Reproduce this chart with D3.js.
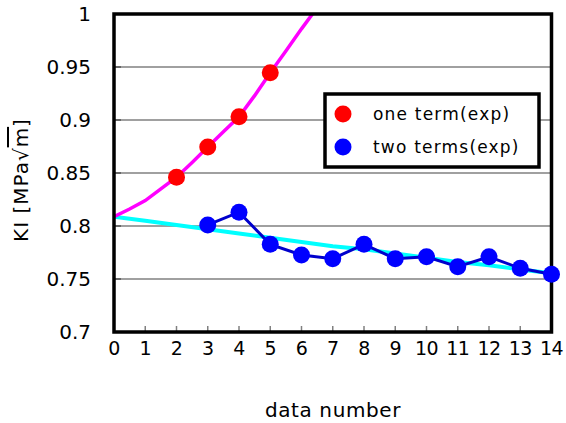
<!DOCTYPE html>
<html>
<head>
<meta charset="utf-8">
<script src="https://cdn.jsdelivr.net/npm/d3@7"></script>
<style>
  body { margin: 0; background: #fff; }
  text { font-family: "DejaVu Sans", sans-serif; fill: #000; }
</style>
</head>
<body>
<script>
// values
const dataNumbers = d3.range(0, 15);
const yTicks = [0.7, 0.75, 0.8, 0.85, 0.9, 0.95, 1];
const gridValues = [0.75, 0.8, 0.85, 0.9, 0.95];

const oneTermX = [2, 3, 4, 5];
const oneTermY = [0.846, 0.8745, 0.903, 0.9446];

const twoTermsX = [3, 4, 5, 6, 7, 8, 9, 10, 11, 12, 13, 14];
const twoTermsY = [0.801, 0.813, 0.7827, 0.7726, 0.7692, 0.7827, 0.7692, 0.771, 0.7616, 0.771, 0.7601, 0.7544];

// fitted curves
const oneFitX = [0, 0.5, 1, 1.5, 2, 2.5, 3, 3.5, 4, 4.5, 5, 5.5, 6, 6.5];
const oneFitY = [0.8088, 0.816, 0.824, 0.835, 0.846, 0.860, 0.8745, 0.889, 0.903, 0.923, 0.9446, 0.965, 0.986, 1.006];

const twoFitX = [0, 1, 2, 3, 4, 5, 6, 7, 8, 9, 10, 11, 12, 13, 14];
const twoFitY = [0.8088, 0.805, 0.801, 0.797, 0.793, 0.789, 0.785, 0.781, 0.778, 0.774, 0.770, 0.766, 0.763, 0.759, 0.7554];

const legendLabels = ["one term(exp)", "two terms(exp)"];
const legendColors = ["#ff0000", "#0000ff"];

const w = 566, h = 423;
const x = d3.scaleLinear().domain([0, 14]).range([114, 551.5]);
const y = d3.scaleLinear().domain([0.7, 1]).range([332, 14]);

const svg = d3.select("body").append("svg")
  .attr("width", w)
  .attr("height", h);

svg.append("defs").append("clipPath")
  .attr("id", "plot-clip")
  .append("rect")
  .attr("x", x(0)).attr("y", y(1))
  .attr("width", x(14) - x(0)).attr("height", y(0.7) - y(1));

// grid
svg.selectAll("line.grid")
  .data(gridValues)
  .enter()
  .append("line")
  .attr("class", "grid")
  .attr("x1", x(0)).attr("x2", x(14))
  .attr("y1", (d) => y(d)).attr("y2", (d) => y(d))
  .attr("stroke", "#808080")
  .attr("stroke-width", 1.5);

// y marks at left
svg.selectAll("line.ytick")
  .data(gridValues)
  .enter()
  .append("line")
  .attr("class", "ytick")
  .attr("x1", x(0)).attr("x2", x(0) + 7)
  .attr("y1", (d) => y(d)).attr("y2", (d) => y(d))
  .attr("stroke", "#555")
  .attr("stroke-width", 1.5);

// x tick marks inside bottom
svg.selectAll("line.xtick")
  .data(dataNumbers.slice(1, 14))
  .enter()
  .append("line")
  .attr("class", "xtick")
  .attr("x1", (d) => x(d)).attr("x2", (d) => x(d))
  .attr("y1", y(0.7)).attr("y2", y(0.7) - 6)
  .attr("stroke", "#808080")
  .attr("stroke-width", 1.5);

const line = d3.line().x((d) => x(d[0])).y((d) => y(d[1]));
const plot = svg.append("g").attr("clip-path", "url(#plot-clip)");

plot.append("path")
  .attr("d", line(d3.zip(twoFitX, twoFitY)))
  .attr("fill", "none")
  .attr("stroke", "#00ffff")
  .attr("stroke-width", 4);

plot.append("path")
  .attr("d", line(d3.zip(oneFitX, oneFitY)))
  .attr("fill", "none")
  .attr("stroke", "#ff00ff")
  .attr("stroke-width", 3.5);

svg.append("path")
  .attr("d", line(d3.zip(twoTermsX, twoTermsY)))
  .attr("fill", "none")
  .attr("stroke", "#0000cc")
  .attr("stroke-width", 3);

// frame
svg.append("rect")
  .attr("x", x(0)).attr("y", y(1))
  .attr("width", x(14) - x(0)).attr("height", y(0.7) - y(1))
  .attr("fill", "none")
  .attr("stroke", "#000")
  .attr("stroke-width", 3.5);

svg.selectAll("circle.one")
  .data(d3.zip(oneTermX, oneTermY))
  .enter()
  .append("circle")
  .attr("class", "one")
  .attr("cx", (d) => x(d[0])).attr("cy", (d) => y(d[1]))
  .attr("r", 8.5)
  .attr("fill", "#ff0000");

svg.selectAll("circle.two")
  .data(d3.zip(twoTermsX, twoTermsY))
  .enter()
  .append("circle")
  .attr("class", "two")
  .attr("cx", (d) => x(d[0])).attr("cy", (d) => y(d[1]))
  .attr("r", 8.5)
  .attr("fill", "#0000ff");

// tick labels
svg.selectAll("text.xlabel")
  .data(dataNumbers)
  .enter()
  .append("text")
  .attr("class", "xlabel")
  .attr("x", (d) => x(d))
  .attr("y", 355)
  .attr("text-anchor", "middle")
  .attr("font-size", 19)
  .attr("letter-spacing", -0.5)
  .text((d) => d);

svg.selectAll("text.ylabel")
  .data(yTicks)
  .enter()
  .append("text")
  .attr("class", "ylabel")
  .attr("x", 91)
  .attr("y", (d) => y(d) + 7)
  .attr("text-anchor", "end")
  .attr("font-size", 20)
  .text((d) => d);

svg.append("text")
  .attr("x", 333)
  .attr("y", 417)
  .attr("text-anchor", "middle")
  .attr("font-size", 20)
  .attr("letter-spacing", 0.6)
  .text("data number");

const ytitle = svg.append("text")
  .attr("transform", "translate(28,180) rotate(-90)")
  .attr("text-anchor", "middle")
  .attr("font-size", 20)
  .attr("letter-spacing", 1);
ytitle.append("tspan").text("KI [MPa√");
ytitle.append("tspan").style("text-decoration", "overline").text("m");
ytitle.append("tspan").text("]");

// legend
const legend = svg.append("g");
legend.append("rect")
  .attr("x", 325).attr("y", 94)
  .attr("width", 214).attr("height", 73)
  .attr("fill", "#fff")
  .attr("stroke", "#000")
  .attr("stroke-width", 3.5);

legend.selectAll("circle")
  .data(legendColors)
  .enter()
  .append("circle")
  .attr("cx", 343)
  .attr("cy", (d, i) => 114 + i * 33)
  .attr("r", 8.5)
  .attr("fill", (d) => d);

legend.selectAll("text")
  .data(legendLabels)
  .enter()
  .append("text")
  .attr("x", 373)
  .attr("y", (d, i) => 120 + i * 33)
  .attr("font-size", 17)
  .attr("letter-spacing", 1.2)
  .text((d) => d);
</script>
</body>
</html>
